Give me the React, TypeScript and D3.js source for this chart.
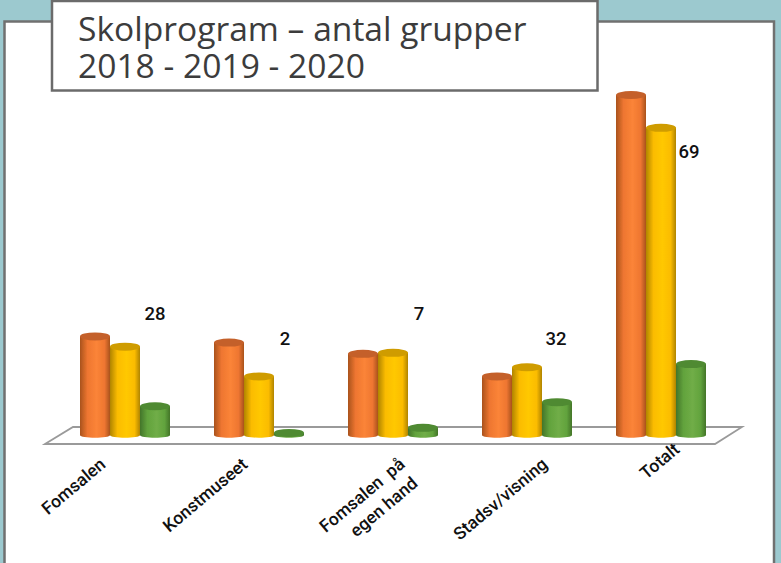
import React from "react";
import * as d3 from "d3";

const categories = ["Fomsalen", "Konstmuseet", "Fomsalen  på|egen hand", "Stadsv/visning", "Totalt"];
const years = ["2018", "2019", "2020"];
const values2018 = [96, 90, 79, 57, 331];
const values2019 = [86, 57, 80, 66, 299];
const values2020 = [28, 2, 7, 32, 69];
const seriesValues = [values2018, values2019, values2020];
const titleLines = ["Skolprogram – antal grupper", "2018 - 2019 - 2020"];

const W = 781, H = 563;
const colors = [
  { edge: "#a9521d", mid: "#ee7630", light: "#fb8438", top: "#c4602a", id: "o" },
  { edge: "#b08400", mid: "#fbbc00", light: "#ffc800", top: "#cf9c00", id: "y" },
  { edge: "#43752a", mid: "#62a33d", light: "#70ad47", top: "#4f8a32", id: "g" },
];
// label anchor and placement relative to each group's centre
const labelDx = [-26, -18, 5, 14, 12];
const labelDy = [457, 457, 457, 457, 442];
const valueLabelDx = [30, 26, 26, 29, 28];
const valueLabelY = [320, 345, 320, 345, 158];

const x = d3.scaleBand<string>().domain(categories).range([58, 728]);
const inner = d3.scaleBand<string>().domain(years).range([-45, 45]);
const y = d3.scaleLinear().domain([0, 331]).range([435, 95]);
const RY = 4;

function cylinder(cx: number, rx: number, yTop: number, yBase: number) {
  const p = d3.path();
  p.moveTo(cx - rx, yTop);
  p.lineTo(cx - rx, yBase);
  p.bezierCurveTo(cx - rx, yBase + RY * 0.9, cx + rx, yBase + RY * 0.9, cx + rx, yBase);
  p.lineTo(cx + rx, yTop);
  p.closePath();
  return p.toString();
}

export default function App() {
  const floor = d3.line()([[45, 444], [73, 427], [742, 427], [715, 444]]) + "Z";
  return (
    <svg width={W} height={H} viewBox={`0 0 ${W} ${H}`} style={{ position: "fixed", left: 0, top: 0, display: "block" }}>
      <defs>
        {colors.map((c) => (
          <linearGradient key={c.id} id={"grad-" + c.id} x1="0" x2="1" y1="0" y2="0">
            <stop offset="0" stopColor={c.edge} />
            <stop offset="0.25" stopColor={c.mid} />
            <stop offset="0.55" stopColor={c.light} />
            <stop offset="0.82" stopColor={c.mid} />
            <stop offset="1" stopColor={c.edge} />
          </linearGradient>
        ))}
        <filter id="soft" x="-10%" y="-10%" width="120%" height="120%">
          <feGaussianBlur stdDeviation="0.7" />
        </filter>
      </defs>
      <rect width={W} height={H} fill="#9cc9cf" />
      <rect x={4.5} y={21.5} width={769.5} height={H} fill="#fff" stroke="#707070" strokeWidth={2.5} />

      <path d={floor} fill="#fff" stroke="#9a9a9a" strokeWidth={1.8} />

      <g filter="url(#soft)">
        {categories.map((cat, i) => (
          <g key={cat}>
            {seriesValues.map((vals, s) => {
              const c = colors[s];
              const cx = x(cat)! + x.bandwidth() / 2 + inner(years[s])! + inner.bandwidth() / 2;
              const rx = inner.bandwidth() / 2;
              const yTop = y(vals[i]);
              return (
                <g key={s}>
                  <path d={cylinder(cx, rx, yTop, y(0))} fill={`url(#grad-${c.id})`} />
                  <ellipse cx={cx} cy={yTop} rx={rx} ry={RY} fill={c.top} />
                </g>
              );
            })}
          </g>
        ))}
      </g>

      {categories.map((cat, i) => {
        const ax = x(cat)! + x.bandwidth() / 2 + labelDx[i];
        const ay = labelDy[i];
        const lines = cat.split("|");
        return (
          <text
            key={cat}
            transform={`translate(${ax},${ay}) rotate(-40)`}
            textAnchor={lines.length > 1 ? "middle" : "end"}
            fontFamily="Roboto, sans-serif"
            fontWeight={500}
            fontSize={17.5}
            fill="#111"
            style={{ whiteSpace: "pre" }}
          >
            {lines.map((l, k) => (
              <tspan key={k} x={lines.length > 1 ? -52 + k * 9 : 0} y={k * 23 + 12} xmlSpace="preserve">{l}</tspan>
            ))}
          </text>
        );
      })}

      {categories.map((cat, i) => (
        <text
          key={cat}
          x={x(cat)! + x.bandwidth() / 2 + valueLabelDx[i]}
          y={valueLabelY[i]}
          textAnchor="middle"
          fontFamily="Roboto, sans-serif"
          fontWeight={500}
          fontSize={18.5}
          fill="#111"
        >
          {values2020[i]}
        </text>
      ))}

      <rect x={52} y={1} width={545.5} height={89.5} fill="#fff" stroke="#6b6b6b" strokeWidth={2.5} />
      {titleLines.map((t, i) => (
        <text key={t} x={78} y={41 + i * 37} fontFamily="'Open Sans', sans-serif" fontSize={33.6} fill="#3c3c3c">
          {t}
        </text>
      ))}
    </svg>
  );
}
